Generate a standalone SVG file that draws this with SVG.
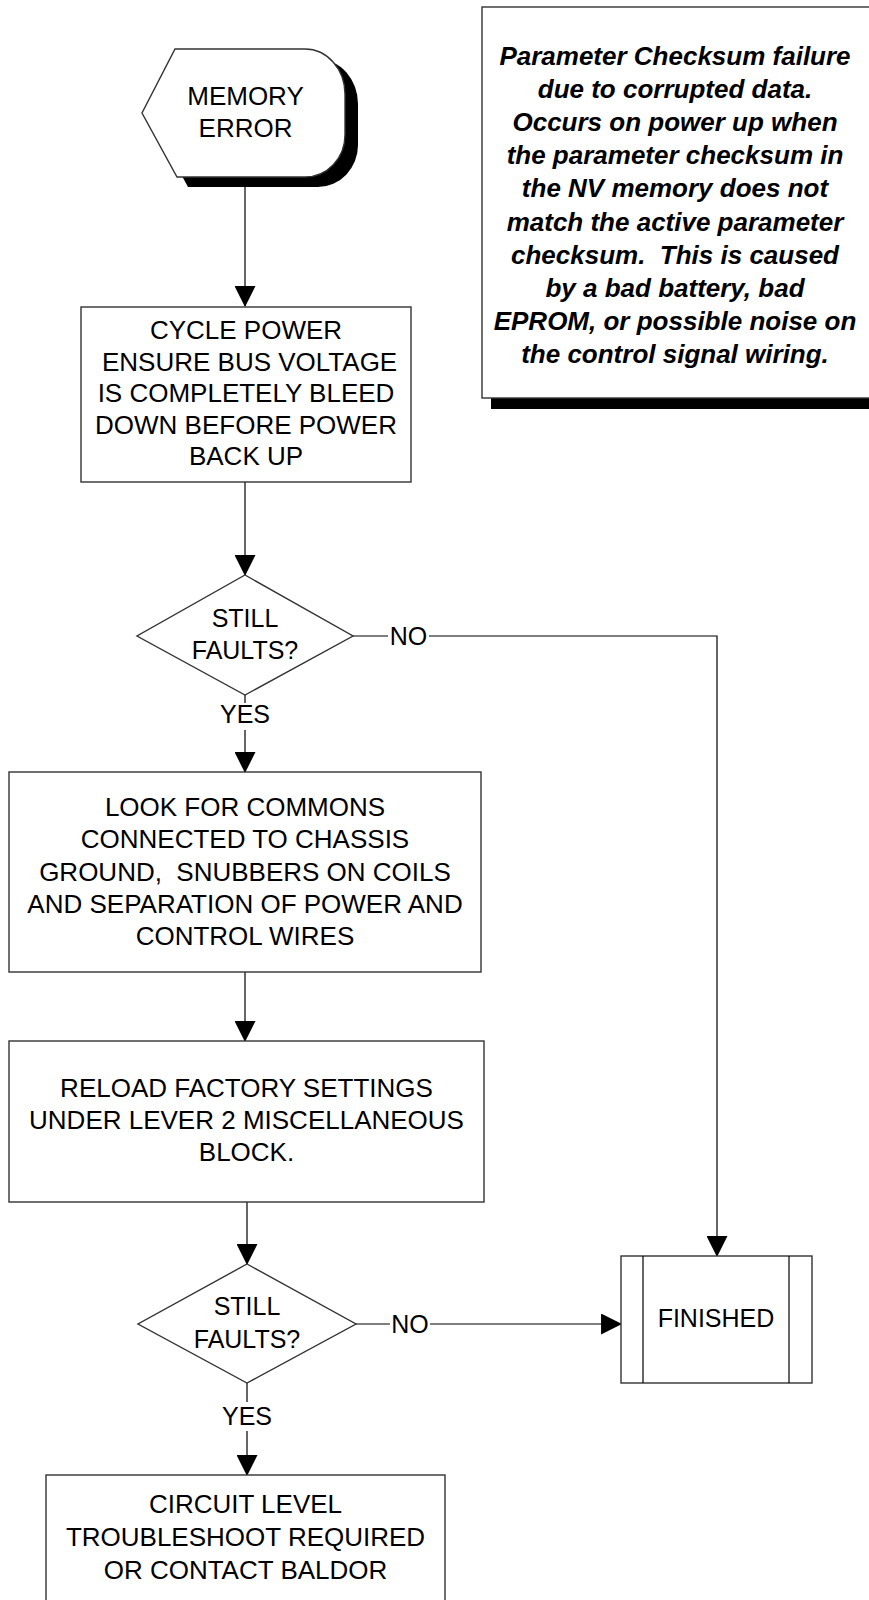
<svg xmlns="http://www.w3.org/2000/svg" width="869" height="1600" viewBox="0 0 869 1600">
<defs>
<style>
.t{font-family:"Liberation Sans",Arial,sans-serif;font-size:26px;fill:#000;text-anchor:middle}
.n{font-family:"Liberation Sans",Arial,sans-serif;font-size:26px;font-weight:bold;font-style:italic;fill:#000;text-anchor:middle}
.l{font-family:"Liberation Sans",Arial,sans-serif;font-size:25px;fill:#000;text-anchor:middle}
.box{fill:#fff;stroke:#333;stroke-width:1.4}
.c{fill:none;stroke:#000;stroke-width:1.2}
</style>
<marker id="ah" markerUnits="userSpaceOnUse" markerWidth="21" markerHeight="21" viewBox="0 0 20 20" refX="19" refY="10" orient="auto">
<path d="M0,0 L20,10 L0,20 Z" fill="#000"/>
</marker>
</defs>
<rect width="869" height="1600" fill="#fff"/>

<g id="connectors">
<line class="c" x1="245" y1="180" x2="245" y2="306" marker-end="url(#ah)"/>
<line class="c" x1="245" y1="482" x2="245" y2="575" marker-end="url(#ah)"/>
<line class="c" x1="245" y1="695" x2="245" y2="703"/>
<line class="c" x1="245" y1="730" x2="245" y2="772" marker-end="url(#ah)"/>
<line class="c" x1="353" y1="636" x2="388" y2="636"/>
<polyline class="c" points="429,636 717,636 717,1256" marker-end="url(#ah)"/>
<line class="c" x1="245" y1="972" x2="245" y2="1041" marker-end="url(#ah)"/>
<line class="c" x1="247" y1="1202" x2="247" y2="1264" marker-end="url(#ah)"/>
<line class="c" x1="356" y1="1324" x2="390" y2="1324"/>
<line class="c" x1="430" y1="1324" x2="621" y2="1324" marker-end="url(#ah)"/>
<line class="c" x1="247" y1="1383" x2="247" y2="1402"/>
<line class="c" x1="247" y1="1431" x2="247" y2="1475" marker-end="url(#ah)"/>
<text class="l" x="408.5" y="645">NO</text>
<text class="l" x="245" y="723">YES</text>
<text class="l" x="410" y="1333">NO</text>
<text class="l" x="247" y="1425">YES</text>
</g>

<g id="memory-error">
<path d="M186,59 L318,59 A40,45 0 0 1 358,104 L358,145 A40,42 0 0 1 318,187 L188,187 L153,123 Z" fill="#000"/>
<path class="box" d="M175,49 L305,49 A40,45 0 0 1 345,94 L345,135 A40,42 0 0 1 305,177 L177,177 L142,113 Z"/>
<text class="t" x="245.5" y="105">MEMORY</text>
<text class="t" x="245.5" y="137">ERROR</text>
</g>

<g id="note">
<rect x="491" y="18" width="400" height="391" fill="#000"/>
<rect class="box" x="482" y="7" width="400" height="391"/>
<text class="n" x="675" y="65">Parameter Checksum failure</text>
<text class="n" x="675" y="98.1">due to corrupted data.</text>
<text class="n" x="675" y="131.2">Occurs on power up when</text>
<text class="n" x="675" y="164.3">the parameter checksum in</text>
<text class="n" x="675" y="197.4">the NV memory does not</text>
<text class="n" x="675" y="230.5">match the active parameter</text>
<text class="n" x="675" y="263.6" xml:space="preserve">checksum.  This is caused</text>
<text class="n" x="675" y="296.7">by a bad battery, bad</text>
<text class="n" x="675" y="329.8">EPROM, or possible noise on</text>
<text class="n" x="675" y="362.9">the control signal wiring.</text>
</g>

<g id="cycle-power">
<rect class="box" x="81" y="307" width="330" height="175"/>
<text class="t" x="246" y="339">CYCLE POWER</text>
<text class="t" x="246" y="370.5" xml:space="preserve"> ENSURE BUS VOLTAGE</text>
<text class="t" x="246" y="402">IS COMPLETELY BLEED</text>
<text class="t" x="246" y="433.5">DOWN BEFORE POWER</text>
<text class="t" x="246" y="465">BACK UP</text>
</g>

<g id="still-faults-1">
<polygon class="box" points="245,575 353,636 245,695 137,636"/>
<text class="l" x="245" y="627">STILL</text>
<text class="l" x="245" y="659">FAULTS?</text>
</g>

<g id="look-for-commons">
<rect class="box" x="9" y="772" width="472" height="200"/>
<text class="t" x="245" y="816">LOOK FOR COMMONS</text>
<text class="t" x="245" y="848">CONNECTED TO CHASSIS</text>
<text class="t" x="245" y="881" xml:space="preserve">GROUND,  SNUBBERS ON COILS</text>
<text class="t" x="245" y="913">AND SEPARATION OF POWER AND</text>
<text class="t" x="245" y="945">CONTROL WIRES</text>
</g>

<g id="reload-factory">
<rect class="box" x="9" y="1041" width="475" height="161"/>
<text class="t" x="246.5" y="1097">RELOAD FACTORY SETTINGS</text>
<text class="t" x="246.5" y="1129">UNDER LEVER 2 MISCELLANEOUS</text>
<text class="t" x="246.5" y="1161">BLOCK.</text>
</g>

<g id="still-faults-2">
<polygon class="box" points="247,1264 356,1324 247,1383 138,1324"/>
<text class="l" x="247" y="1315">STILL</text>
<text class="l" x="247" y="1348">FAULTS?</text>
</g>

<g id="finished">
<rect class="box" x="621" y="1256" width="191" height="127"/>
<line class="c" x1="643" y1="1256" x2="643" y2="1383" stroke="#333"/>
<line class="c" x1="789" y1="1256" x2="789" y2="1383"/>
<text class="l" x="716" y="1327">FINISHED</text>
</g>

<g id="circuit-level">
<rect class="box" x="46" y="1475" width="399" height="140"/>
<text class="t" x="245.5" y="1513">CIRCUIT LEVEL</text>
<text class="t" x="245.5" y="1546">TROUBLESHOOT REQUIRED</text>
<text class="t" x="245.5" y="1579">OR CONTACT BALDOR</text>
</g>
</svg>
